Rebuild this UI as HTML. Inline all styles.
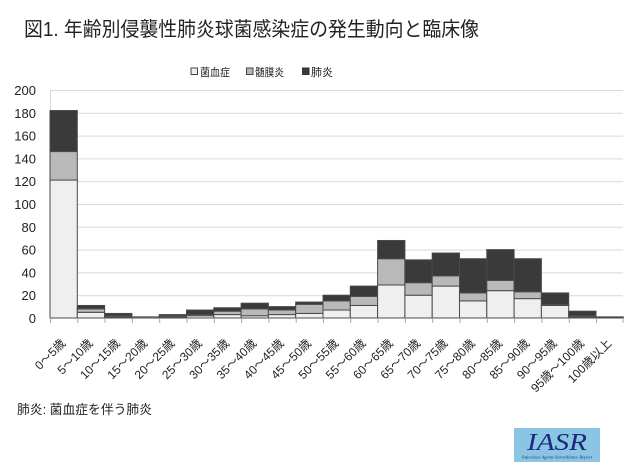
<!DOCTYPE html>
<html>
<head>
<meta charset="utf-8">
<style>
html,body{margin:0;padding:0;background:#fff;}
svg{display:block;}
text{font-family:"Liberation Sans","Noto Sans CJK JP",sans-serif;}
</style>
</head>
<body>
<svg width="640" height="474" viewBox="0 0 640 474" xmlns="http://www.w3.org/2000/svg">
<rect width="640" height="474" fill="#fff"/>
<text x="24" y="36" font-size="20" fill="#222" textLength="455" lengthAdjust="spacingAndGlyphs">図1. 年齢別侵襲性肺炎球菌感染症の発生動向と臨床像</text>
<rect x="191" y="68" width="6.5" height="6.5" fill="#efefef" stroke="#444" stroke-width="1"/>
<text x="200" y="76" font-size="11" fill="#222" textLength="30" lengthAdjust="spacingAndGlyphs">菌血症</text>
<rect x="246.5" y="68" width="6.5" height="6.5" fill="#b9b9b9" stroke="#444" stroke-width="1"/>
<text x="255" y="76" font-size="11" fill="#222" textLength="29" lengthAdjust="spacingAndGlyphs">髄膜炎</text>
<rect x="302.5" y="68" width="6.5" height="6.5" fill="#3a3a3a" stroke="#333" stroke-width="1"/>
<text x="311" y="76" font-size="11" fill="#222" textLength="22" lengthAdjust="spacingAndGlyphs">肺炎</text>
<g stroke="#d9d9d9" stroke-width="1">
<line x1="50" y1="90.5" x2="623" y2="90.5"/>
<line x1="50" y1="113.3" x2="623" y2="113.3"/>
<line x1="50" y1="136.1" x2="623" y2="136.1"/>
<line x1="50" y1="158.9" x2="623" y2="158.9"/>
<line x1="50" y1="181.7" x2="623" y2="181.7"/>
<line x1="50" y1="204.5" x2="623" y2="204.5"/>
<line x1="50" y1="227.3" x2="623" y2="227.3"/>
<line x1="50" y1="250.1" x2="623" y2="250.1"/>
<line x1="50" y1="272.9" x2="623" y2="272.9"/>
<line x1="50" y1="295.7" x2="623" y2="295.7"/>
<line x1="50.5" y1="90" x2="50.5" y2="318"/>
</g>
<g font-size="13" fill="#222" text-anchor="end">
<text x="36" y="95">200</text>
<text x="36" y="117.8">180</text>
<text x="36" y="140.6">160</text>
<text x="36" y="163.4">140</text>
<text x="36" y="186.2">120</text>
<text x="36" y="209">100</text>
<text x="36" y="231.8">80</text>
<text x="36" y="254.6">60</text>
<text x="36" y="277.4">40</text>
<text x="36" y="300.2">20</text>
<text x="36" y="323">0</text>
</g>
<g stroke="#4a4a4a" stroke-width="1">
<rect x="50" y="180.06" width="27.3" height="137.94" fill="#efefef"/>
<rect x="50" y="151.56" width="27.3" height="28.5" fill="#b9b9b9"/>
<rect x="50" y="110.52" width="27.3" height="41.04" fill="#3a3a3a"/>
<rect x="77.3" y="312.3" width="27.3" height="5.7" fill="#efefef"/>
<rect x="77.3" y="308.88" width="27.3" height="3.42" fill="#b9b9b9"/>
<rect x="77.3" y="305.46" width="27.3" height="3.42" fill="#3a3a3a"/>
<rect x="104.6" y="316.86" width="27.3" height="1.14" fill="#efefef"/>
<rect x="104.6" y="315.72" width="27.3" height="1.14" fill="#b9b9b9"/>
<rect x="104.6" y="313.44" width="27.3" height="2.28" fill="#3a3a3a"/>
<rect x="131.9" y="316.86" width="27.3" height="1.14" fill="#efefef"/>
<rect x="159.2" y="316.86" width="27.3" height="1.14" fill="#efefef"/>
<rect x="159.2" y="315.72" width="27.3" height="1.14" fill="#b9b9b9"/>
<rect x="159.2" y="314.58" width="27.3" height="1.14" fill="#3a3a3a"/>
<rect x="186.5" y="315.72" width="27.3" height="2.28" fill="#efefef"/>
<rect x="186.5" y="314.58" width="27.3" height="1.14" fill="#b9b9b9"/>
<rect x="186.5" y="310.02" width="27.3" height="4.56" fill="#3a3a3a"/>
<rect x="213.8" y="314.58" width="27.3" height="3.42" fill="#efefef"/>
<rect x="213.8" y="311.16" width="27.3" height="3.42" fill="#b9b9b9"/>
<rect x="213.8" y="307.74" width="27.3" height="3.42" fill="#3a3a3a"/>
<rect x="241.1" y="315.72" width="27.3" height="2.28" fill="#efefef"/>
<rect x="241.1" y="308.88" width="27.3" height="6.84" fill="#b9b9b9"/>
<rect x="241.1" y="303.18" width="27.3" height="5.7" fill="#3a3a3a"/>
<rect x="268.4" y="314.58" width="27.3" height="3.42" fill="#efefef"/>
<rect x="268.4" y="310.02" width="27.3" height="4.56" fill="#b9b9b9"/>
<rect x="268.4" y="306.6" width="27.3" height="3.42" fill="#3a3a3a"/>
<rect x="295.7" y="313.44" width="27.3" height="4.56" fill="#efefef"/>
<rect x="295.7" y="304.32" width="27.3" height="9.12" fill="#b9b9b9"/>
<rect x="295.7" y="302.04" width="27.3" height="2.28" fill="#3a3a3a"/>
<rect x="323" y="310.02" width="27.3" height="7.98" fill="#efefef"/>
<rect x="323" y="300.9" width="27.3" height="9.12" fill="#b9b9b9"/>
<rect x="323" y="295.2" width="27.3" height="5.7" fill="#3a3a3a"/>
<rect x="350.3" y="305.46" width="27.3" height="12.54" fill="#efefef"/>
<rect x="350.3" y="296.34" width="27.3" height="9.12" fill="#b9b9b9"/>
<rect x="350.3" y="286.08" width="27.3" height="10.26" fill="#3a3a3a"/>
<rect x="377.6" y="284.94" width="27.3" height="33.06" fill="#efefef"/>
<rect x="377.6" y="258.72" width="27.3" height="26.22" fill="#b9b9b9"/>
<rect x="377.6" y="240.48" width="27.3" height="18.24" fill="#3a3a3a"/>
<rect x="404.9" y="295.2" width="27.3" height="22.8" fill="#efefef"/>
<rect x="404.9" y="282.66" width="27.3" height="12.54" fill="#b9b9b9"/>
<rect x="404.9" y="259.86" width="27.3" height="22.8" fill="#3a3a3a"/>
<rect x="432.2" y="286.08" width="27.3" height="31.92" fill="#efefef"/>
<rect x="432.2" y="275.82" width="27.3" height="10.26" fill="#b9b9b9"/>
<rect x="432.2" y="253.02" width="27.3" height="22.8" fill="#3a3a3a"/>
<rect x="459.5" y="300.9" width="27.3" height="17.1" fill="#efefef"/>
<rect x="459.5" y="292.92" width="27.3" height="7.98" fill="#b9b9b9"/>
<rect x="459.5" y="258.72" width="27.3" height="34.2" fill="#3a3a3a"/>
<rect x="486.8" y="290.64" width="27.3" height="27.36" fill="#efefef"/>
<rect x="486.8" y="280.38" width="27.3" height="10.26" fill="#b9b9b9"/>
<rect x="486.8" y="249.6" width="27.3" height="30.78" fill="#3a3a3a"/>
<rect x="514.1" y="298.62" width="27.3" height="19.38" fill="#efefef"/>
<rect x="514.1" y="291.78" width="27.3" height="6.84" fill="#b9b9b9"/>
<rect x="514.1" y="258.72" width="27.3" height="33.06" fill="#3a3a3a"/>
<rect x="541.4" y="305.46" width="27.3" height="12.54" fill="#efefef"/>
<rect x="541.4" y="304.32" width="27.3" height="1.14" fill="#b9b9b9"/>
<rect x="541.4" y="292.92" width="27.3" height="11.4" fill="#3a3a3a"/>
<rect x="568.7" y="316.86" width="27.3" height="1.14" fill="#efefef"/>
<rect x="568.7" y="315.72" width="27.3" height="1.14" fill="#b9b9b9"/>
<rect x="568.7" y="311.16" width="27.3" height="4.56" fill="#3a3a3a"/>
<rect x="596" y="316.86" width="27.3" height="1.14" fill="#3a3a3a"/>
</g>
<g stroke="#a6a6a6" stroke-width="1">
<line x1="50" y1="318.5" x2="623" y2="318.5"/>
<line x1="50.5" y1="318" x2="50.5" y2="323"/>
<line x1="77.8" y1="318" x2="77.8" y2="323"/>
<line x1="105.1" y1="318" x2="105.1" y2="323"/>
<line x1="132.4" y1="318" x2="132.4" y2="323"/>
<line x1="159.7" y1="318" x2="159.7" y2="323"/>
<line x1="187" y1="318" x2="187" y2="323"/>
<line x1="214.3" y1="318" x2="214.3" y2="323"/>
<line x1="241.6" y1="318" x2="241.6" y2="323"/>
<line x1="268.9" y1="318" x2="268.9" y2="323"/>
<line x1="296.2" y1="318" x2="296.2" y2="323"/>
<line x1="323.5" y1="318" x2="323.5" y2="323"/>
<line x1="350.8" y1="318" x2="350.8" y2="323"/>
<line x1="378.1" y1="318" x2="378.1" y2="323"/>
<line x1="405.4" y1="318" x2="405.4" y2="323"/>
<line x1="432.7" y1="318" x2="432.7" y2="323"/>
<line x1="460" y1="318" x2="460" y2="323"/>
<line x1="487.3" y1="318" x2="487.3" y2="323"/>
<line x1="514.6" y1="318" x2="514.6" y2="323"/>
<line x1="541.9" y1="318" x2="541.9" y2="323"/>
<line x1="569.2" y1="318" x2="569.2" y2="323"/>
<line x1="596.5" y1="318" x2="596.5" y2="323"/>
<line x1="623" y1="318" x2="623" y2="323"/>
</g>
<g font-size="12" fill="#222" text-anchor="end">
<text transform="translate(66.2,344) rotate(-45)">0～5歳</text>
<text transform="translate(93.5,344) rotate(-45)">5～10歳</text>
<text transform="translate(120.8,344) rotate(-45)">10～15歳</text>
<text transform="translate(148.1,344) rotate(-45)">15～20歳</text>
<text transform="translate(175.4,344) rotate(-45)">20～25歳</text>
<text transform="translate(202.7,344) rotate(-45)">25～30歳</text>
<text transform="translate(230,344) rotate(-45)">30～35歳</text>
<text transform="translate(257.3,344) rotate(-45)">35～40歳</text>
<text transform="translate(284.6,344) rotate(-45)">40～45歳</text>
<text transform="translate(311.9,344) rotate(-45)">45～50歳</text>
<text transform="translate(339.2,344) rotate(-45)">50～55歳</text>
<text transform="translate(366.5,344) rotate(-45)">55～60歳</text>
<text transform="translate(393.8,344) rotate(-45)">60～65歳</text>
<text transform="translate(421.1,344) rotate(-45)">65～70歳</text>
<text transform="translate(448.4,344) rotate(-45)">70～75歳</text>
<text transform="translate(475.7,344) rotate(-45)">75～80歳</text>
<text transform="translate(503,344) rotate(-45)">80～85歳</text>
<text transform="translate(530.3,344) rotate(-45)">85～90歳</text>
<text transform="translate(557.6,344) rotate(-45)">90～95歳</text>
<text transform="translate(584.9,344) rotate(-45)">95歳～100歳</text>
<text transform="translate(612.2,344) rotate(-45)">100歳以上</text>
</g>
<text x="17" y="414" font-size="13" fill="#222" textLength="135" lengthAdjust="spacingAndGlyphs">肺炎: 菌血症を伴う肺炎</text>
<rect x="514" y="428" width="86" height="34" fill="#8ac6e4"/>
<text x="557" y="450" font-size="24" font-style="italic" fill="#1b2a7a" text-anchor="middle" textLength="60" lengthAdjust="spacingAndGlyphs" style="font-family:'Liberation Serif',serif">IASR</text>
<text x="557" y="458.5" font-size="4.5" font-style="italic" fill="#1b2a7a" text-anchor="middle" textLength="70" lengthAdjust="spacingAndGlyphs" style="font-family:'Liberation Serif',serif">Infectious Agents Surveillance Report</text>
</svg>
</body>
</html>
